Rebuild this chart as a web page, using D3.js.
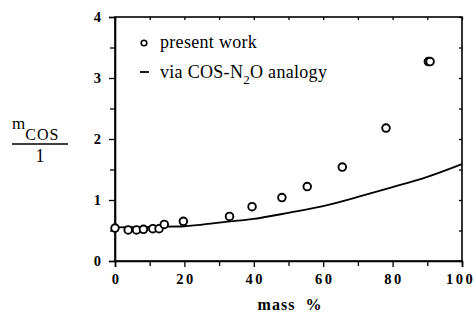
<!DOCTYPE html>
<html>
<head>
<meta charset="utf-8">
<script src="https://cdn.jsdelivr.net/npm/d3@7"></script>
<style>
  body { margin: 0; background: #fff; }
  svg { display: block; }
</style>
</head>
<body>
<div id="chart"></div>
<script>
// measured points ("present work")
const massPct = [0, 3.8, 6.2, 8.2, 10.9, 12.7, 14.2, 19.7, 33, 39.5, 48.1, 55.4, 65.5, 78.1, 90.3, 90.8];
const mCos = [0.54, 0.51, 0.51, 0.52, 0.53, 0.53, 0.60, 0.65, 0.73, 0.89, 1.04, 1.22, 1.54, 2.18, 3.27, 3.27];

// curve "via COS-N2O analogy"
const analogyPct = [0, 10, 20, 30, 40, 50, 60, 70, 80, 90, 100];
const analogyM = [0.55, 0.56, 0.57, 0.63, 0.69, 0.79, 0.90, 1.05, 1.21, 1.38, 1.59];

const xTicks = [0, 20, 40, 60, 80, 100];
const xMinor = [10, 30, 50, 70, 90];
const yTicks = [0, 1, 2, 3, 4];
const yMinor = [0.5, 1.5, 2.5, 3.5];

const FONT = "'Liberation Serif', 'DejaVu Serif', serif";

const W = 475, H = 319;
const margin = { top: 17, right: 13, bottom: 58, left: 115 };
const width = W - margin.left - margin.right;
const height = H - margin.top - margin.bottom;

const svg = d3.select('#chart').append('svg')
  .attr('width', W)
  .attr('height', H)
  .style('font-family', FONT);

const g = svg.append('g')
  .attr('transform', `translate(${margin.left},${margin.top})`);

const x = d3.scaleLinear().domain([0, 100]).range([0, width]);
const y = d3.scaleLinear().domain([0, 4]).range([height, 0]);

// frame
g.append('rect')
  .attr('width', width)
  .attr('height', height)
  .attr('fill', 'none')
  .attr('stroke', '#000')
  .attr('stroke-width', 1.6);

// bottom axis
const xAxis = g.append('g')
  .attr('transform', `translate(0,${height})`)
  .call(d3.axisBottom(x).tickValues(xTicks).tickSize(6).tickPadding(7).tickFormat(d3.format('d')));
g.append('g')
  .attr('transform', `translate(0,${height})`)
  .call(d3.axisBottom(x).tickValues(xMinor).tickSize(5).tickFormat(''))
  .call(a => a.select('.domain').remove());

// left axis
const yAxis = g.append('g')
  .call(d3.axisLeft(y).tickValues(yTicks).tickSize(6).tickPadding(8).tickFormat(d3.format('d')));
g.append('g')
  .call(d3.axisLeft(y).tickValues(yMinor).tickSize(5).tickFormat(''))
  .call(a => a.select('.domain').remove());

// small mirrored ticks on top and right
g.append('g')
  .call(d3.axisBottom(x).tickValues(xTicks.concat(xMinor)).tickSize(3).tickFormat(''))
  .call(a => a.select('.domain').remove());
g.append('g')
  .attr('transform', `translate(${width},0)`)
  .call(d3.axisLeft(y).tickValues(yTicks.concat(yMinor)).tickSize(3).tickFormat(''))
  .call(a => a.select('.domain').remove());

g.selectAll('.domain').attr('stroke-width', 1.6);
g.selectAll('.tick line').attr('stroke-width', 1.3);

xAxis.attr('font-family', FONT);
yAxis.attr('font-family', FONT);
xAxis.selectAll('text')
  .style('font-family', FONT)
  .attr('font-weight', 'bold')
  .attr('font-size', 14.5)
  .attr('letter-spacing', 2.5)
  .attr('dx', d => d === 100 ? -2 : 1)
  .attr('fill', '#000');
yAxis.selectAll('text')
  .style('font-family', FONT)
  .attr('font-weight', 'bold')
  .attr('font-size', 14.5)
  .attr('fill', '#000');

// analogy curve
const line = d3.line()
  .x((d, i) => x(analogyPct[i]))
  .y(d => y(d))
  .curve(d3.curveMonotoneX);

g.append('path')
  .datum(analogyM)
  .attr('fill', 'none')
  .attr('stroke', '#000')
  .attr('stroke-width', 1.8)
  .attr('d', line);

// measured points
g.selectAll('.pt')
  .data(massPct)
  .enter().append('circle')
  .attr('class', 'pt')
  .attr('cx', d => x(d))
  .attr('cy', (d, i) => y(mCos[i]))
  .attr('r', 3.8)
  .attr('fill', '#fff')
  .attr('stroke', '#000')
  .attr('stroke-width', 1.9);

// legend
const leg = svg.append('g');
leg.append('circle')
  .attr('cx', 144).attr('cy', 43).attr('r', 2.8)
  .attr('fill', '#fff').attr('stroke', '#000').attr('stroke-width', 1.6);
leg.append('text')
  .attr('x', 160).attr('y', 48)
  .attr('font-size', 18)
  .attr('letter-spacing', 0.3)
  .text('present work');
leg.append('line')
  .attr('x1', 140).attr('x2', 149).attr('y1', 72).attr('y2', 72)
  .attr('stroke', '#000').attr('stroke-width', 1.8);
const t2 = leg.append('text')
  .attr('x', 160).attr('y', 78)
  .attr('font-size', 18)
  .attr('letter-spacing', 0.3);
t2.append('tspan').text('via COS-N');
t2.append('tspan').attr('dy', 6).attr('font-size', 13).text('2');
t2.append('tspan').attr('dy', -6).text('O analogy');

// y label: m_COS / 1
const yl = svg.append('g');
const mt = yl.append('text')
  .attr('x', 12).attr('y', 129)
  .attr('font-size', 17);
mt.append('tspan').text('m');
mt.append('tspan').attr('dy', 11).attr('font-size', 16).attr('letter-spacing', 1).text('COS');
yl.append('line')
  .attr('x1', 12).attr('x2', 68).attr('y1', 144).attr('y2', 144)
  .attr('stroke', '#000').attr('stroke-width', 1.3);
yl.append('text')
  .attr('x', 40).attr('y', 162)
  .attr('text-anchor', 'middle')
  .attr('font-size', 18)
  .text('1');

// x label
const xl = svg.append('text')
  .attr('x', 290).attr('y', 310)
  .attr('text-anchor', 'middle')
  .attr('font-size', 16)
  .attr('font-weight', 'bold')
  .attr('letter-spacing', 1);
xl.append('tspan').text('mass');
xl.append('tspan').attr('dx', 10).text('%');
</script>
</body>
</html>
